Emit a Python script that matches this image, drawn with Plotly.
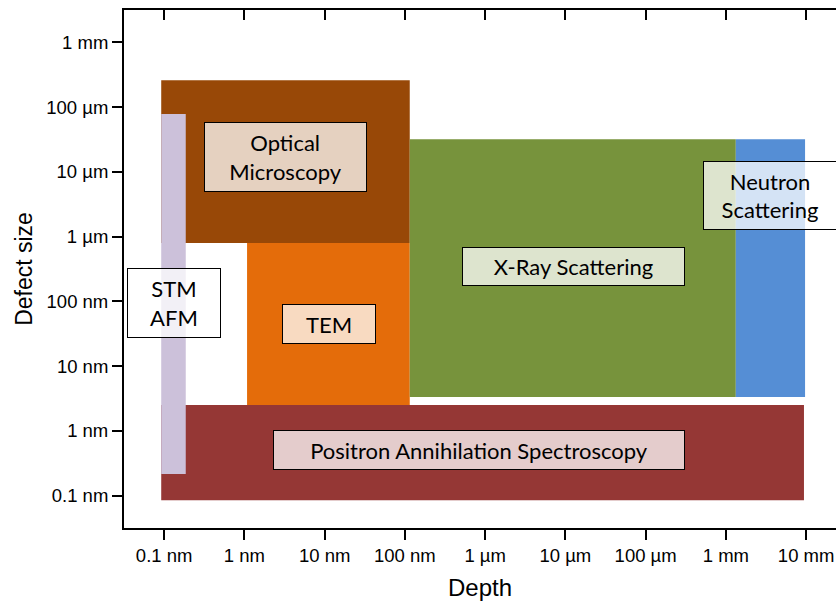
import numpy as np
import plotly.graph_objects as go

# Measurement techniques: probed depth range and detectable defect size range (metres)
techniques = ["Optical Microscopy", "TEM", "Positron Annihilation Spectroscopy",
              "X-Ray Scattering", "Neutron Scattering", "STM / AFM"]
depth_min = [9.2e-11, 1.08e-9, 9.2e-11, 1.15e-7, 1.33e-3, 9.2e-11]
depth_max = [1.15e-7, 1.15e-7, 9.4e-3, 1.33e-3, 9.7e-3, 1.86e-10]
size_min = [8.0e-7, 2.5e-9, 8.5e-11, 3.35e-9, 3.35e-9, 2.16e-10]
size_max = [2.6e-4, 8.0e-7, 2.5e-9, 3.2e-5, 3.2e-5, 7.8e-5]
colors = ["#984807", "#E46C0A", "#953735", "#77933C", "#558ED5", "#CCC1DA"]

# Decade ticks shared by both axes
tick_vals = [1e-10, 1e-9, 1e-8, 1e-7, 1e-6, 1e-5, 1e-4, 1e-3, 1e-2]
tick_text = ["0.1 nm", "1 nm", "10 nm", "100 nm", "1 µm", "10 µm", "100 µm", "1 mm", "10 mm"]

# Label boxes: text, centre (log10 metres), box size (px)
label_text = ["Optical<br>Microscopy", "TEM", "Positron Annihilation Spectroscopy",
              "X-Ray Scattering", "Neutron<br>Scattering", "STM<br>AFM"]
label_logx = [-8.482, -7.946, -6.081, -4.903, -2.449, -9.872]
label_logy = [-4.776, -7.357, -9.303, -6.461, -5.367, -7.023]
label_w = [163, 94, 412, 223, 134, 94]
label_h = [70, 40, 40, 39, 69, 70]

fig = go.Figure()

for name, x0, x1, y0, y1, c in zip(techniques, depth_min, depth_max, size_min, size_max, colors):
    fig.add_trace(go.Scatter(
        x=[x0, x1, x1, x0, x0], y=[y0, y0, y1, y1, y0],
        mode="lines", fill="toself", fillcolor=c,
        line=dict(width=0, color=c), name=name, hoverinfo="name",
        showlegend=False,
    ))

# invisible trace carrying the top tick axis
fig.add_trace(go.Scatter(x=[1e-10], y=[1e-10], xaxis="x2", mode="markers",
                         marker=dict(opacity=0), showlegend=False, hoverinfo="skip"))

for t, lx, ly, w, h in zip(label_text, label_logx, label_logy, label_w, label_h):
    fig.add_annotation(
        x=lx, y=ly, xref="x", yref="y", text=t, showarrow=False,
        width=w - 2, height=h - 2, borderpad=0, borderwidth=1,
        bordercolor="#000000", bgcolor="rgba(255,255,255,0.75)",
        font=dict(family="Lato", size=22, color="#000000"),
        align="center", valign="middle",
    )

x_range = [-10.5, -10.5 + (836 - 124) / 80.25]
y_range = [-10.5, -2.5]

axis_font = dict(family="Liberation Sans", size=18.5, color="#000000")

fig.update_layout(
    width=836, height=606,
    margin=dict(l=124, r=0, t=10, b=78),
    paper_bgcolor="#FFFFFF", plot_bgcolor="#FFFFFF",
    xaxis=dict(
        type="log", range=x_range, tickvals=tick_vals, ticktext=tick_text,
        ticks="outside", ticklen=10, tickwidth=2, tickcolor="#000000",
        showline=True, linewidth=2, linecolor="#000000", mirror=True,
        showgrid=False, zeroline=False, tickfont=axis_font,
        title=dict(text="Depth", font=dict(family="Liberation Sans", size=24, color="#000000"),
                   standoff=14),
    ),
    xaxis2=dict(
        type="log", range=x_range, overlaying="x", side="top", anchor="y",
        tickvals=tick_vals, ticks="inside", ticklen=10, tickwidth=2,
        tickcolor="#000000", showticklabels=False, showline=False,
        showgrid=False, zeroline=False,
    ),
    yaxis=dict(
        type="log", range=y_range, tickvals=tick_vals[:-1], ticktext=tick_text[:-1],
        ticks="outside", ticklen=10, tickwidth=2, tickcolor="#000000",
        showline=True, linewidth=2, linecolor="#000000",
        showgrid=False, zeroline=False, tickfont=axis_font,
        title=dict(text="Defect size", font=dict(family="Liberation Sans", size=23, color="#000000"),
                   standoff=7),
    ),
)

fig.write_html("out.html")
